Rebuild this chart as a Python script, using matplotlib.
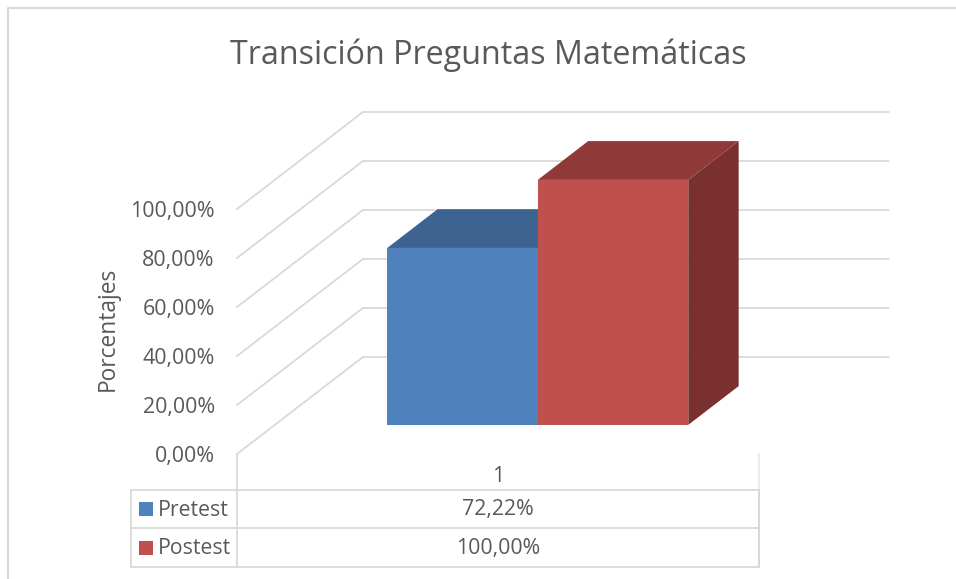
import matplotlib
matplotlib.use("Agg")
import matplotlib.pyplot as plt
from matplotlib.patches import Polygon, Rectangle
from matplotlib.lines import Line2D

title = "Transición Preguntas Matemáticas"
series_names = ["Pretest", "Postest"]
values = [72.22, 100.00]
category = "1"
y_ticks = [0, 20, 40, 60, 80, 100]
y_label = "Porcentajes"

front_colors = ["#4F81BD", "#C0504D"]
top_colors = ["#3D6391", "#8F3A38"]
side_colors = ["#355678", "#7A302E"]
GRID = "#D9D9D9"
TEXT = "#595959"
FONT = "Open Sans"
W, H = 956, 579
plt.rcParams["font.family"] = [FONT, "DejaVu Sans"]

fig = plt.figure(figsize=(W / 100, H / 100), dpi=100, facecolor="white")

# page-level overlay in pixel coordinates (frame and data table)
ov = fig.add_axes([0, 0, 1, 1], zorder=0)
ov.set_xlim(0, W)
ov.set_ylim(H, 0)
ov.axis("off")

# value axes: front plane of the 3D box
AX_L, AX_R, AX_B, AX_T = 237, 762.5, 454, 209
ax = fig.add_axes([AX_L / W, 1 - AX_B / H, (AX_R - AX_L) / W, (AX_B - AX_T) / H], zorder=1)
ax.set_xlim(0, 1)
ax.set_ylim(0, 100)
ax.patch.set_alpha(0)
for s in ax.spines.values():
    s.set_visible(False)
ax.set_xticks([])
ax.set_yticks(y_ticks)
ax.set_yticklabels([f"{v:.2f}%".replace(".", ",") for v in y_ticks], fontsize=15.4, color=TEXT)
ax.tick_params(axis="y", length=0, pad=16)
ax.set_ylabel(y_label, fontsize=16.4, color=TEXT, labelpad=7.5, y=0.512)

DX = 126 / (AX_R - AX_L)
DY = 97 / (AX_B - AX_T) * 100


def proj(x, y, d):
    return (x + d * DX, y + d * DY)


# walls
for t in y_ticks:
    ax.plot(*zip(proj(0, t, 0), proj(0, t, 1), proj(1, t, 1)), color=GRID, lw=1.3,
            clip_on=False, zorder=1, solid_joinstyle="miter")

# bars
BAR_W = 150.5 / (AX_R - AX_L)
BAR_X0 = 0.2140
D0, D1 = 0.30, 0.70
for i, v in enumerate(values):
    x0, x1 = BAR_X0 + i * BAR_W, BAR_X0 + (i + 1) * BAR_W
    faces = [
        ([proj(x1, 0, D0), proj(x1, 0, D1), proj(x1, v, D1), proj(x1, v, D0)], side_colors[i]),
        ([proj(x0, v, D0), proj(x1, v, D0), proj(x1, v, D1), proj(x0, v, D1)], top_colors[i]),
        ([proj(x0, 0, D0), proj(x1, 0, D0), proj(x1, v, D0), proj(x0, v, D0)], front_colors[i]),
    ]
    for pts, c in faces:
        ax.add_patch(Polygon(pts, closed=True, facecolor=c, edgecolor="none",
                             clip_on=False, zorder=3 + i))

# frame
ov.add_line(Line2D([8, 8, 956], [579, 8, 8], color=GRID, lw=1.5))

# data table
T_L, T_C, T_R = 131, 237, 759.5
rows = [490, 528, 567]
for y in rows:
    ov.add_line(Line2D([T_L, T_R], [y, y], color=GRID, lw=1.3))
ov.add_line(Line2D([T_L, T_L], [rows[0], rows[-1]], color=GRID, lw=1.3))
ov.add_line(Line2D([T_C, T_C], [454, rows[-1]], color=GRID, lw=1.3))
ov.add_line(Line2D([T_R, T_R], [454, rows[0]], color="#E6E6E6", lw=1.2))
ov.add_line(Line2D([T_R, T_R], [rows[0], rows[-1]], color=GRID, lw=1.5))

mid = (T_C + T_R) / 2
ov.text(mid, 477, category, ha="center", va="center", fontsize=15.4, color=TEXT)
for i, name in enumerate(series_names):
    yc = (rows[i] + rows[i + 1]) / 2
    ov.add_patch(Rectangle((139, yc - 7), 14, 14, facecolor=front_colors[i], edgecolor="none"))
    ov.text(157.5, yc + 1, name, ha="left", va="center", fontsize=15.3, color=TEXT)
    ov.text(mid, yc + 1, f"{values[i]:.2f}%".replace(".", ","), ha="center", va="center",
            fontsize=15.3, color=TEXT)

ov.text(488, 55, title, ha="center", va="center", fontsize=23.2, color=TEXT)

fig.savefig("out.png", dpi=100, facecolor="white")
